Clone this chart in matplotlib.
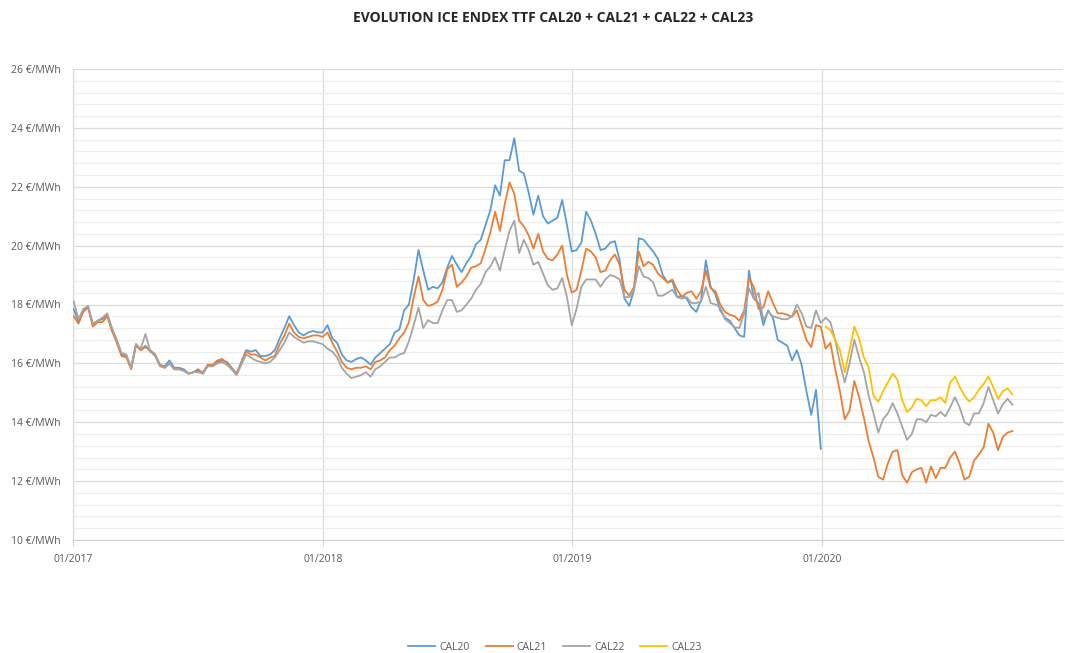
import matplotlib
matplotlib.use("Agg")
import matplotlib.pyplot as plt
import matplotlib.dates as mdates
from matplotlib.ticker import MultipleLocator, FuncFormatter
import pandas as pd
import numpy as np

plt.rcParams['font.family'] = ['Open Sans', 'DejaVu Sans']

# ---- data (weekly readings, €/MWh) ----
start_date = "2017-01-02"
n_weeks = 197
x_start = "2017-01-01"
x_end = "2020-12-18"

cal20 = [17.85, 17.4, 17.8, 17.95, 17.3, 17.45, 17.5, 17.65, 17.15, 16.75, 16.3, 16.25, 15.85, 16.65, 16.45, 16.6,
         16.4, 16.3, 15.95, 15.9, 16.1, 15.85, 15.85, 15.8, 15.65, 15.7, 15.8, 15.65, 15.95, 15.9, 16.05, 16.1,
         16.05, 15.85, 15.65, 16.05,
         16.45, 16.4, 16.45, 16.25, 16.25, 16.3, 16.45, 16.85, 17.2, 17.6, 17.3, 17.05, 16.95, 17.05, 17.1, 17.05,
         17.05, 17.3, 16.85, 16.7, 16.3, 16.1, 16.05, 16.15, 16.2, 16.1, 15.95, 16.2, 16.35, 16.5, 16.65, 17.05,
         17.15, 17.8, 18.0,
         18.85, 19.85, 19.15, 18.5, 18.6, 18.55, 18.75, 19.25, 19.65, 19.35, 19.1, 19.4, 19.65, 20.05, 20.2, 20.7,
         21.2, 22.05, 21.7, 22.9, 22.9, 23.65, 22.55, 22.45, 21.8, 21.05, 21.7, 21.0, 20.75, 20.85, 20.95, 21.55,
         20.7, 19.8,
         19.85, 20.1, 21.15, 20.85, 20.4, 19.85, 19.9, 20.1, 20.15, 19.5, 18.2, 17.95, 18.5, 20.25, 20.2, 20.0,
         19.8, 19.55, 19.0, 18.75, 18.8, 18.25, 18.3, 18.2, 17.9, 17.75, 18.15, 19.5, 18.6, 18.35, 17.8, 17.55,
         17.45, 17.2, 16.95, 16.9, 19.15, 18.2, 18.05, 17.3, 17.8, 17.55, 16.8, 16.7, 16.6, 16.1, 16.45, 15.95,
         15.05, 14.25, 15.1, 13.1]

cal21 = [17.6, 17.35, 17.75, 17.9, 17.25, 17.4, 17.4, 17.6, 17.1, 16.7, 16.25, 16.2, 15.8, 16.6, 16.45, 16.55,
         16.45, 16.3, 15.95, 15.85, 16.0, 15.8, 15.8, 15.75, 15.65, 15.7, 15.75, 15.7, 15.95, 15.95, 16.1, 16.15,
         16.0, 15.8, 15.65, 16.0,
         16.4, 16.3, 16.3, 16.2, 16.1, 16.2, 16.25, 16.65, 16.95, 17.35, 17.05, 16.9, 16.85, 16.9, 16.95, 16.95,
         16.9, 17.05, 16.7, 16.4, 16.05, 15.85, 15.8, 15.85, 15.85, 15.9, 15.8, 16.05, 16.1, 16.2, 16.45, 16.6,
         16.85, 17.05, 17.4,
         18.25, 18.95, 18.15, 17.95, 18.0, 18.1, 18.5, 19.2, 19.35, 18.6, 18.75, 18.95, 19.25, 19.3, 19.4, 19.9,
         20.45, 21.15, 20.5, 21.4, 22.15, 21.75, 20.85, 20.65, 20.35, 19.9, 20.4, 19.8, 19.55, 19.5, 19.7, 20.0,
         19.0, 18.4,
         18.5, 19.15, 19.9, 19.8, 19.6, 19.1, 19.15, 19.5, 19.7, 19.35, 18.5, 18.3, 18.6, 19.8, 19.3, 19.45,
         19.35, 19.05, 18.9, 18.75, 18.85, 18.5, 18.25, 18.4, 18.45, 18.2, 18.45, 19.15, 18.55, 18.45, 18.0, 17.75,
         17.65, 17.6, 17.45, 17.8, 18.9, 18.6, 17.85, 17.9, 18.45, 18.05, 17.7, 17.7, 17.65, 17.58, 17.8, 17.3,
         16.8, 16.55, 17.3, 17.25,
         16.5, 16.7, 15.8, 15.05, 14.1, 14.4, 15.4, 14.85, 14.15, 13.35, 12.8, 12.15, 12.05, 12.6, 13.0, 13.05,
         12.2, 11.95, 12.3, 12.4, 12.45, 11.95, 12.5, 12.1, 12.45, 12.45, 12.8, 13.0, 12.6, 12.05, 12.15, 12.7,
         12.9, 13.15, 13.95, 13.65, 13.05, 13.5, 13.65, 13.7]

cal22 = [18.1, 17.5, 17.85, 17.95, 17.35, 17.45, 17.55, 17.7, 17.2, 16.8, 16.35, 16.3, 15.85, 16.65, 16.5, 17.0,
         16.4, 16.25, 15.9, 15.85, 16.0, 15.8, 15.8, 15.75, 15.65, 15.7, 15.7, 15.65, 15.9, 15.9, 16.0, 16.05,
         15.95, 15.8, 15.6, 15.95,
         16.3, 16.2, 16.1, 16.05, 16.0, 16.05, 16.2, 16.45, 16.7, 17.05, 16.9, 16.8, 16.7, 16.75, 16.75, 16.7,
         16.65, 16.5, 16.4, 16.2, 15.85, 15.65, 15.5, 15.55, 15.6, 15.7, 15.55, 15.8, 15.9, 16.05, 16.2, 16.2,
         16.3, 16.35, 16.75,
         17.3, 17.9, 17.2, 17.47, 17.37, 17.37, 17.8, 18.15, 18.15, 17.75, 17.8, 18.0, 18.2, 18.5, 18.7, 19.1,
         19.3, 19.6, 19.15, 19.85, 20.5, 20.85, 19.75, 20.2, 19.85, 19.35, 19.45, 19.05, 18.65, 18.5, 18.55, 18.9,
         18.25, 17.3,
         17.85, 18.6, 18.85, 18.85, 18.85, 18.6, 18.85, 19.0, 18.95, 18.85, 18.25, 18.25, 18.5, 19.3, 18.95, 18.9,
         18.75, 18.3, 18.3, 18.4, 18.5, 18.25, 18.2, 18.25, 18.05, 18.05, 18.1, 18.6, 18.05, 18.0, 17.9, 17.5,
         17.37, 17.23, 17.2, 17.7, 18.55, 18.2, 18.4, 17.47, 17.75, 17.6, 17.55, 17.5, 17.5, 17.6, 18.0, 17.7,
         17.25, 17.2, 17.8, 17.37,
         17.55, 17.4, 16.8, 16.0, 15.35, 16.0, 16.8, 16.2, 15.7, 14.9, 14.3, 13.65, 14.1, 14.3, 14.65, 14.3,
         13.85, 13.4, 13.6, 14.1, 14.1, 14.0, 14.25, 14.2, 14.35, 14.2, 14.5, 14.85, 14.5, 14.0, 13.9, 14.3,
         14.3, 14.65, 15.2, 14.75, 14.3, 14.6, 14.8, 14.6]

cal23 = [17.25, 17.13, 16.8, 16.45, 15.7, 16.45, 17.25, 16.85, 16.2, 15.85, 14.9, 14.7, 15.05, 15.35, 15.65, 15.45,
         14.75, 14.35, 14.5, 14.8, 14.75, 14.55, 14.75, 14.75, 14.85, 14.65, 15.35, 15.55, 15.2, 14.9, 14.7, 14.85,
         15.1, 15.3, 15.55, 15.2, 14.8, 15.05, 15.15, 14.95]

series_names = ["CAL20", "CAL21", "CAL22", "CAL23"]
series_colors = ["#5B9BD5", "#ED7D31", "#A5A5A5", "#FFC000"]

weeks = pd.date_range(start_date, periods=n_weeks, freq="7D")

fig = plt.figure(figsize=(10.65, 6.53), dpi=100)
ax = fig.add_axes([73 / 1065, 1 - 540 / 653, (1063 - 73) / 1065, (540 - 69) / 653])

lw = 1.3
ax.plot(weeks[:len(cal20)], cal20, color=series_colors[0], lw=lw, label=series_names[0], zorder=3)
ax.plot(weeks[:len(cal21)], cal21, color=series_colors[1], lw=lw, label=series_names[1], zorder=3)
ax.plot(weeks[:len(cal22)], cal22, color=series_colors[2], lw=lw, label=series_names[2], zorder=3)
ax.plot(weeks[n_weeks - len(cal23):], cal23, color=series_colors[3], lw=lw, label=series_names[3], zorder=3)

ax.set_xlim(pd.Timestamp(x_start), pd.Timestamp(x_end))
ax.set_ylim(10, 26)

ax.yaxis.set_major_locator(MultipleLocator(2))
ax.yaxis.set_minor_locator(MultipleLocator(0.4))
ax.yaxis.set_major_formatter(FuncFormatter(lambda v, p: f"{v:.0f} €/MWh"))
ax.xaxis.set_major_locator(mdates.YearLocator())
ax.xaxis.set_major_formatter(mdates.DateFormatter("%m/%Y"))

ax.grid(which="major", axis="y", color="#dcdcdc", lw=0.9)
ax.grid(which="minor", axis="y", color="#ececec", lw=0.9)
ax.grid(which="major", axis="x", color="#dcdcdc", lw=0.9)
ax.set_axisbelow(True)

for s in ["top", "right"]:
    ax.spines[s].set_visible(False)
ax.spines["left"].set_color("#d9d9d9")
ax.spines["bottom"].set_color("#d0d0d0")

ax.tick_params(axis="y", which="both", length=0, labelsize=7.5, labelcolor="#595959", pad=9)
ax.tick_params(axis="x", which="major", length=4, color="#d0d0d0", labelsize=7.5, labelcolor="#595959", pad=6)
ax.tick_params(axis="x", which="minor", length=0)

fig.text(553 / 1065, 1 - 18 / 653, "EVOLUTION ICE ENDEX TTF CAL20 + CAL21 + CAL22 + CAL23",
         ha="center", va="center", fontsize=10, fontweight="bold", color="#262626")

fig.legend(loc="center", bbox_to_anchor=(555 / 1065, 1 - 647 / 653), ncol=4, frameon=False,
           fontsize=7.5, handlelength=2.6, handletextpad=0.4, columnspacing=1.5, labelcolor="#595959")

fig.savefig("out.png", dpi=100)
